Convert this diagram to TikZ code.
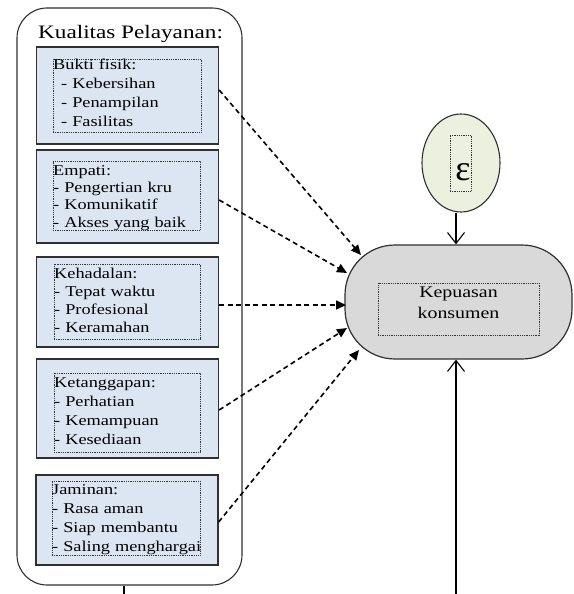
\documentclass[tikz,border=0pt]{standalone}
\usepackage{fontspec}
\setmainfont{Liberation Serif}
\newfontfamily\wf[FakeStretch=1.22]{Liberation Serif}
\usetikzlibrary{arrows.meta,shapes.geometric}
\definecolor{boxblue}{HTML}{DCE6F2}
\definecolor{epsgreen}{HTML}{EBF1DE}
\definecolor{kpgray}{HTML}{D9D9D9}
\definecolor{edge}{HTML}{303030}
\tikzset{
  outerbox/.style={draw=edge, line width=1.1pt, rounded corners=30pt, inner sep=0pt},
  dimbox/.style={draw=edge, fill=boxblue, line width=1.3pt, inner sep=0pt},
  dotbox/.style={draw=black!80, line width=0.8pt, dash pattern=on 0.9pt off 0.9pt, inner sep=0pt},
  itemtxt/.style={anchor=base west, inner sep=0pt, text width=150pt, align=left},
  dasharrow/.style={draw=black, line width=1.6pt, dash pattern=on 5pt off 3.5pt,
     -{Triangle[length=10pt,width=9pt]}},
  openarrow/.style={draw=black, line width=1.1pt, -{Straight Barb[length=11pt,width=17pt,line width=1.1pt]}},
}
\begin{document}
\begin{tikzpicture}[x=1pt,y=-1pt]
\useasboundingbox (0,0) rectangle (573,594);
% outer container
\node[outerbox, minimum width=225pt, minimum height=577pt] (outer) at (129.5,296.5) {};
\node[anchor=base west, inner sep=0pt, font={\wf\fontsize{19}{22}\selectfont}] (title) at (38,39) {Kualitas Pelayanan:};
% dimension boxes
\node[dimbox, minimum width=182pt, minimum height=97pt] (b1) at (127.5,95.5) {};
\node[dimbox, minimum width=182pt, minimum height=93pt] (b2) at (127.5,196.5) {};
\node[dimbox, minimum width=182pt, minimum height=90pt] (b3) at (127.5,302) {};
\node[dimbox, minimum width=182pt, minimum height=99pt] (b4) at (127.5,408.5) {};
\node[dimbox, minimum width=182pt, minimum height=90pt] (b5) at (127,520) {};
% dotted text frames
\node[dotbox, minimum width=148pt, minimum height=73pt] (d1) at (127,95.5) {};
\node[dotbox, minimum width=147pt, minimum height=69pt] (d2) at (126.5,195.5) {};
\node[dotbox, minimum width=146pt, minimum height=75pt] (d3) at (127,301.5) {};
\node[dotbox, minimum width=146pt, minimum height=79pt] (d4) at (127,412.5) {};
\node[dotbox, minimum width=148pt, minimum height=74pt] (d5) at (126,518) {};
% texts
\node[itemtxt, font={\wf\fontsize{15}{19}\selectfont}] (t1) at (53,70)
  {Bukti fisik:\\\hspace*{8pt}- Kebersihan\\\hspace*{8pt}- Penampilan\\\hspace*{8pt}- Fasilitas};
\node[itemtxt, font={\wf\fontsize{15}{17.4}\selectfont}] (t2) at (53,175)
  {Empati:\\- Pengertian kru\\- Komunikatif\\- Akses yang baik};
\node[itemtxt, font={\wf\fontsize{15}{18.3}\selectfont}] (t3) at (54,278)
  {Kehadalan:\\- Tepat waktu\\- Profesional\\- Keramahan};
\node[itemtxt, font={\wf\fontsize{15}{19}\selectfont}] (t4) at (54,387)
  {Ketanggapan:\\- Perhatian\\- Kemampuan\\- Kesediaan};
\node[itemtxt, font={\wf\fontsize{15}{19}\selectfont}] (t5) at (52,494)
  {Jaminan:\\- Rasa aman\\- Siap membantu\\- Saling menghargai};
% epsilon
\node[ellipse, draw=edge, fill=epsgreen, line width=1.1pt, minimum width=78pt, minimum height=98pt, inner sep=0pt] (eps) at (461,163) {};
\node[dotbox, minimum width=21pt, minimum height=56pt] (epsframe) at (460.5,163) {};
\node[inner sep=0pt, font={\fontsize{36}{36}\selectfont}] (epstxt) at (463,172) {ε};
% consumer satisfaction
\node[draw=edge, fill=kpgray, line width=1.2pt, rounded corners=50pt, minimum width=227pt, minimum height=114pt, inner sep=0pt] (kp) at (458.5,302) {};
\node[dotbox, minimum width=161pt, minimum height=52pt] (kpframe) at (458.5,309) {};
\node[inner sep=0pt, align=center, font={\wf\fontsize{16.3}{21}\selectfont}] (kptxt) at (458.5,303) {Kepuasan\\konsumen};
% arrow endpoints on the satisfaction node
\coordinate (e1) at (361,255);
\coordinate (e2) at (347,273);
\coordinate (e3) at (346,305);
\coordinate (e4) at (347,328);
\coordinate (e5) at (359,350);
\draw[dasharrow] (b1.east |- 0,90) -- (e1);
\draw[dasharrow] (b2.east |- 0,200) -- (e2);
\draw[dasharrow] (b3.east |- 0,305) -- (e3);
\draw[dasharrow] (b4.east |- 0,410) -- (e4);
\draw[dasharrow] (b5.east |- 0,522) -- (e5);
% solid arrows
\draw[openarrow] (eps.south -| 456,0) -- (456,0 |- kp.north);
\coordinate (kbot) at (456,594);
\draw[openarrow] (kbot) -- (kbot |- kp.south);
\coordinate (obot) at (124,594);
\draw[draw=black, line width=1.1pt] (obot |- outer.south) -- (obot);
\end{tikzpicture}
\end{document}
